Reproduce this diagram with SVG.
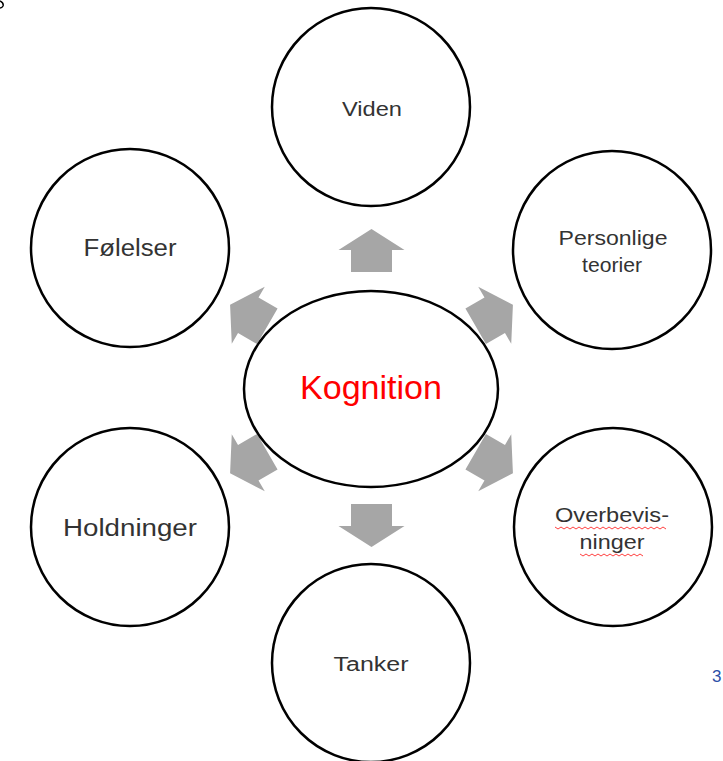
<svg xmlns="http://www.w3.org/2000/svg" width="723" height="761" viewBox="0 0 723 761">
<style>
.node{fill:#fff;stroke:#000;stroke-width:2.5}
.lbl{font-family:"Liberation Sans",Arial,sans-serif;font-size:23px;fill:#333;text-anchor:middle}
.sm{font-size:20px}
.arr{fill:#a6a6a6}
.sq{fill:none;stroke:#ff4040;stroke-width:1}
</style>
<defs>
<path id="arrow" d="M0,-21.5 L33,-0.5 L20.5,-0.5 L20.5,21.5 L-20.5,21.5 L-20.5,-0.5 L-33,-0.5 Z"/>
</defs>
<rect width="723" height="761" fill="#fff"/>
<path d="M0,1 Q4,3 3,6 Q2,8 0,8" fill="none" stroke="#000" stroke-width="1.5"/>
<text x="712" y="682" font-family="Liberation Sans,Arial,sans-serif" font-size="17" fill="#2b4fa8">3</text>
<g id="connectors">
<use href="#arrow" class="arr" transform="translate(371.5,250.5)"/>
<use href="#arrow" class="arr" transform="translate(371.5,525.5) rotate(180)"/>
<use href="#arrow" class="arr" transform="translate(248.7,315.5) rotate(-60)"/>
<use href="#arrow" class="arr" transform="translate(494.3,315.5) rotate(60)"/>
<use href="#arrow" class="arr" transform="translate(248.7,462.5) rotate(-120)"/>
<use href="#arrow" class="arr" transform="translate(494.3,462.5) rotate(120)"/>
</g>
<g id="kognition">
<ellipse class="node" cx="371" cy="389" rx="127" ry="98"/>
<text x="371" y="399" font-family="Liberation Sans,Arial,sans-serif" font-size="33" fill="#ff0000" text-anchor="middle" textLength="142" lengthAdjust="spacingAndGlyphs">Kognition</text>
</g>
<g id="viden">
<circle class="node" cx="371" cy="107" r="99"/>
<text class="lbl sm" x="372" y="116" textLength="60" lengthAdjust="spacingAndGlyphs">Viden</text>
</g>
<g id="personlige-teorier">
<circle class="node" cx="612" cy="250" r="99"/>
<text class="lbl sm" x="613" y="245" textLength="109" lengthAdjust="spacingAndGlyphs">Personlige</text>
<text class="lbl sm" x="612" y="272" textLength="60" lengthAdjust="spacingAndGlyphs">teorier</text>
</g>
<g id="overbevisninger">
<circle class="node" cx="613" cy="527" r="99"/>
<text class="lbl sm" x="612" y="522" textLength="114" lengthAdjust="spacingAndGlyphs">Overbevis-</text>
<text class="lbl sm" x="612" y="549" textLength="65" lengthAdjust="spacingAndGlyphs">ninger</text>
<path class="sq" d="M555,527 l3,2 l3,-2 l3,2 l3,-2 l3,2 l3,-2 l3,2 l3,-2 l3,2 l3,-2 l3,2 l3,-2 l3,2 l3,-2 l3,2 l3,-2 l3,2 l3,-2 l3,2 l3,-2 l3,2 l3,-2 l3,2 l3,-2 l3,2 l3,-2 l3,2 l3,-2 l3,2 l3,-2 l3,2 l3,-2 l3,2 l3,-2 l3,2 l3,-2 l3,2"/>
<path class="sq" d="M580,554 l3,2 l3,-2 l3,2 l3,-2 l3,2 l3,-2 l3,2 l3,-2 l3,2 l3,-2 l3,2 l3,-2 l3,2 l3,-2 l3,2 l3,-2 l3,2 l3,-2 l3,2 l3,-2 l3,2"/>
</g>
<g id="tanker">
<circle class="node" cx="371" cy="663" r="99"/>
<text class="lbl sm" x="371" y="671" textLength="75" lengthAdjust="spacingAndGlyphs">Tanker</text>
</g>
<g id="holdninger">
<circle class="node" cx="130" cy="527" r="99"/>
<text class="lbl" x="130" y="536" textLength="134" lengthAdjust="spacingAndGlyphs">Holdninger</text>
</g>
<g id="folelser">
<circle class="node" cx="130" cy="248" r="99"/>
<text class="lbl" x="130" y="256" textLength="93" lengthAdjust="spacingAndGlyphs">Følelser</text>
</g>
</svg>
